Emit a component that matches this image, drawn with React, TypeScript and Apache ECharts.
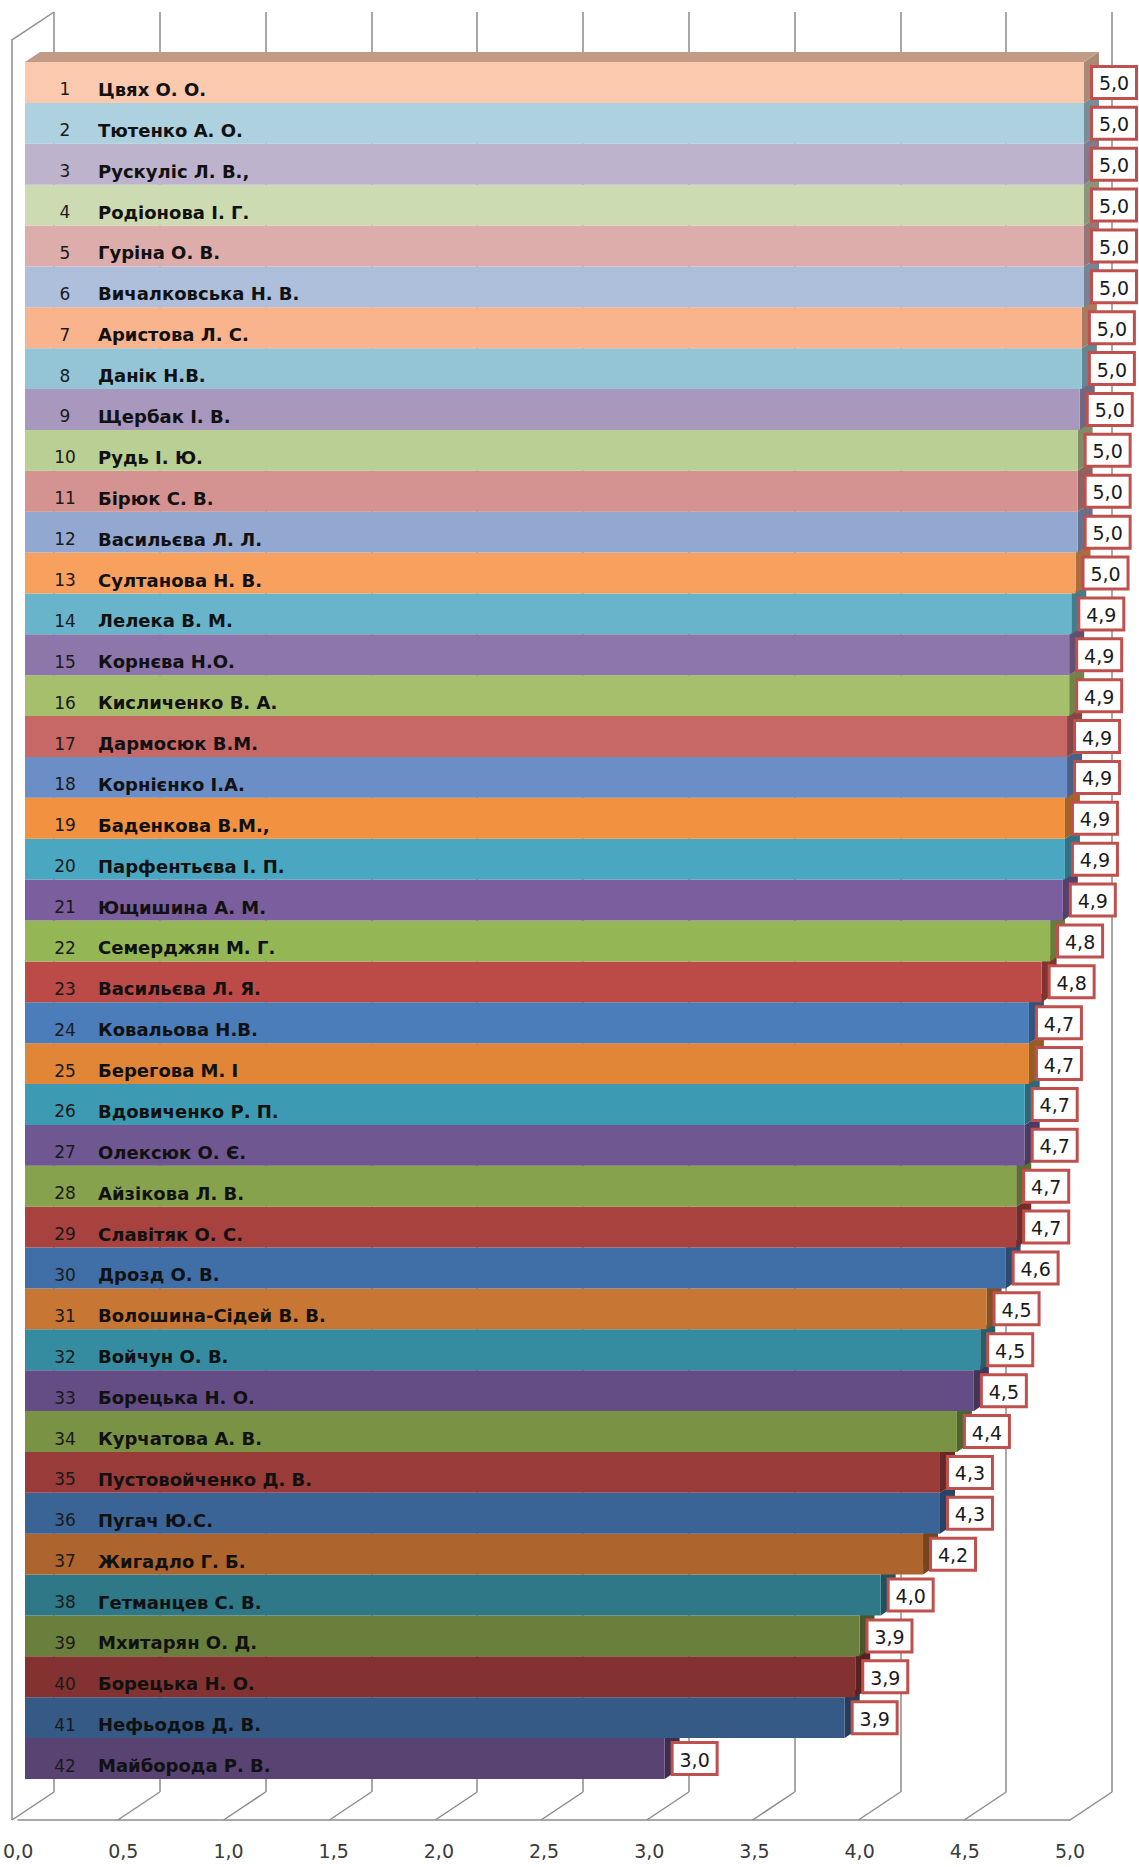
import React, { useEffect, useRef } from "react";
import * as echarts from "echarts";

const names = [
  "Цвях О. О.", "Тютенко А. О.", "Рускуліс Л. В.,", "Родіонова І. Г.", "Гуріна О. В.",
  "Вичалковська Н. В.", "Аристова Л. С.", "Данік Н.В.", "Щербак І. В.", "Рудь І. Ю.",
  "Бірюк С. В.", "Васильєва Л. Л.", "Султанова Н. В.", "Лелека В. М.", "Корнєва Н.О.",
  "Кисличенко В. А.", "Дармосюк В.М.", "Корнієнко І.А.", "Баденкова В.М.,", "Парфентьєва І. П.",
  "Ющишина А. М.", "Семерджян М. Г.", "Васильєва Л. Я.", "Ковальова Н.В.", "Берегова М. І",
  "Вдовиченко Р. П.", "Олексюк О. Є.", "Айзікова Л. В.", "Славітяк О. С.", "Дрозд О. В.",
  "Волошина-Сідей В. В.", "Войчун О. В.", "Борецька Н. О.", "Курчатова А. В.", "Пустовойченко Д. В.",
  "Пугач Ю.С.", "Жигадло Г. Б.", "Гетманцев С. В.", "Мхитарян О. Д.", "Борецька Н. О.",
  "Нефьодов Д. В.", "Майборода Р. В.",
];

const scores = [
  5.0, 5.0, 5.0, 5.0, 5.0, 5.0, 4.99, 4.99, 4.98, 4.97,
  4.97, 4.97, 4.96, 4.94, 4.93, 4.93, 4.92, 4.92, 4.91, 4.91,
  4.9, 4.84, 4.8, 4.74, 4.74, 4.72, 4.72, 4.68, 4.68, 4.63,
  4.54, 4.51, 4.48, 4.4, 4.32, 4.32, 4.24, 4.04, 3.94, 3.92,
  3.87, 3.02,
];

const barColors = [
  "#FAC9AE", "#ADD1DF", "#BEB3CC", "#CDDBB3", "#DDADAC", "#AEBFDC",
  "#F9B48E", "#93C5D6", "#A898BE", "#B9CF94", "#D49291", "#93A8D1",
  "#F8A05E", "#68B4CB", "#8D76AA", "#A6BF6D", "#C86866", "#6B8EC6",
  "#F29140", "#49A7C2", "#7B5E9E", "#95B655", "#BC4B47", "#4A7DBA",
  "#E08636", "#3C9BB2", "#6F5792", "#87A24D", "#A8423F", "#406FA8",
  "#C77634", "#358B9F", "#634D84", "#7A9244", "#983B39", "#3A6496",
  "#AE642D", "#2E7887", "#6B7F3D", "#833231", "#345A85", "#584372",
];

const xTickValues = [0, 0.5, 1, 1.5, 2, 2.5, 3, 3.5, 4, 4.5, 5];

const WALL_DX = 42;
const WALL_DY = 28;
const BAR_DX = 15;
const BAR_DY = 10;
const LINE_COLOR = "#8c8c8c";
const FONT = "DejaVu Sans";

const fmt = (v: number) => v.toFixed(1).replace(".", ",");

function shade(hex: string, f: number) {
  const n = parseInt(hex.slice(1), 16);
  const r = Math.round(((n >> 16) & 255) * f);
  const g = Math.round(((n >> 8) & 255) * f);
  const b = Math.round((n & 255) * f);
  return `rgb(${r},${g},${b})`;
}

export default function App() {
  const ref = useRef<HTMLDivElement>(null);

  useEffect(() => {
    if (!ref.current) return;
    const chart = echarts.init(ref.current, null, { renderer: "svg" });

    const barData = scores.map((s, i) => [s, i]).reverse();

    const renderBar = (_params: any, api: any) => {
      const idx = api.value(1);
      const v = api.value(0);
      const start = api.coord([0, idx]);
      const end = api.coord([v, idx]);
      const h = api.size([0, 1])[1];
      const cy = start[1];
      const top = cy - h / 2;
      const bottom = cy + h / 2;
      const x0 = start[0];
      const x1 = end[0];
      const c = barColors[idx];
      const z = 50 - idx;
      const children: any[] = [
        {
          type: "polygon",
          z2: z,
          shape: {
            points: [
              [x1, top],
              [x1 + BAR_DX, top - BAR_DY],
              [x1 + BAR_DX, bottom - BAR_DY],
              [x1, bottom],
            ],
          },
          style: { fill: shade(c, 0.68) },
        },
        {
          type: "rect",
          z2: z,
          shape: { x: x0, y: top, width: x1 - x0, height: h },
          style: { fill: c },
        },
      ];
      if (idx === 0) {
        children.push({
          type: "polygon",
          z2: z,
          shape: {
            points: [
              [x0, top],
              [x0 + BAR_DX, top - BAR_DY],
              [x1 + BAR_DX, top - BAR_DY],
              [x1, top],
            ],
          },
          style: { fill: shade(c, 0.77) },
        });
      }
      children.push({
        type: "rect",
        z2: 100,
        shape: { x: x1 + 7.5, y: cy - 16, width: 45, height: 32 },
        style: { fill: "#ffffff", stroke: "#C0504D", lineWidth: 3 },
      });
      children.push({
        type: "text",
        z2: 101,
        style: {
          text: fmt(v),
          x: x1 + 30,
          y: cy + 1,
          align: "center",
          verticalAlign: "middle",
          fontSize: 19,
          fontFamily: FONT,
          fill: "#1a1a1a",
        },
      });
      return { type: "group", children };
    };

    const renderWall = (_params: any, api: any) => {
      const v = api.value(0);
      const b = api.coord([v, 0]);
      const t = api.coord([v, 1]);
      const children: any[] = [
        {
          type: "line",
          shape: { x1: b[0], y1: b[1], x2: b[0] - WALL_DX, y2: b[1] + WALL_DY },
          style: { stroke: LINE_COLOR, lineWidth: 1.5 },
        },
      ];
      if (v === 0) {
        children.push({
          type: "polyline",
          shape: {
            points: [
              [t[0], t[1]],
              [t[0] - WALL_DX, t[1] + WALL_DY],
              [b[0] - WALL_DX, b[1] + WALL_DY],
            ],
          },
          style: { stroke: LINE_COLOR, lineWidth: 1.5, fill: "none" },
        });
      }
      return { type: "group", children };
    };

    chart.setOption({
      animation: false,
      backgroundColor: "#ffffff",
      grid: [
        { left: 54, top: 12, width: 1058, height: 1780 },
        { left: 12, top: 1818, width: 1058, height: 2 },
        { left: 25, top: 62, width: 1059, height: 1717 },
      ],
      xAxis: [
        {
          gridIndex: 0,
          type: "value",
          min: 0,
          max: 5,
          interval: 0.5,
          axisLine: { show: false },
          axisTick: { show: false },
          axisLabel: { show: false },
          splitLine: { show: true, lineStyle: { color: LINE_COLOR, width: 1.5 } },
        },
        {
          gridIndex: 1,
          type: "value",
          min: 0,
          max: 5,
          interval: 0.5,
          axisLine: { show: true, lineStyle: { color: LINE_COLOR, width: 1.5 } },
          axisTick: { show: false },
          splitLine: { show: false },
          axisLabel: {
            show: true,
            margin: 21,
            formatter: (v: number) => fmt(v),
            fontSize: 19,
            fontFamily: FONT,
            color: "#3a3a3a",
          },
        },
        {
          gridIndex: 2,
          type: "value",
          min: 0,
          max: 5,
          show: false,
          splitLine: { show: false },
        },
      ],
      yAxis: [
        { gridIndex: 0, type: "value", min: 0, max: 1, show: false, splitLine: { show: false } },
        { gridIndex: 1, type: "value", min: 0, max: 1, show: false, splitLine: { show: false } },
        {
          gridIndex: 2,
          type: "category",
          data: names,
          inverse: true,
          z: 10,
          axisLine: { show: false },
          axisTick: { show: false },
          splitLine: { show: false },
          axisLabel: {
            show: true,
            inside: true,
            margin: 7,
            padding: [14, 0, 0, 0],
            formatter: (value: string, index: number) => `{n|${index + 1}}{b|${value}}`,
            rich: {
              n: {
                width: 66,
                align: "center",
                fontSize: 17,
                fontFamily: FONT,
                color: "#1a1a1a",
              },
              b: {
                fontSize: 18,
                fontWeight: "bold",
                fontFamily: FONT,
                color: "#111111",
              },
            },
          },
        },
      ],
      series: [
        {
          type: "custom",
          xAxisIndex: 0,
          yAxisIndex: 0,
          z: 1,
          silent: true,
          data: xTickValues.map((v) => [v, 0]),
          renderItem: renderWall,
        },
        {
          type: "custom",
          xAxisIndex: 2,
          yAxisIndex: 2,
          z: 2,
          silent: true,
          data: barData,
          renderItem: renderBar,
        },
      ],
    });

    return () => chart.dispose();
  }, []);

  return (
    <div
      ref={ref}
      style={{ position: "absolute", left: 0, top: 0, width: 1139, height: 1867 }}
    />
  );
}
